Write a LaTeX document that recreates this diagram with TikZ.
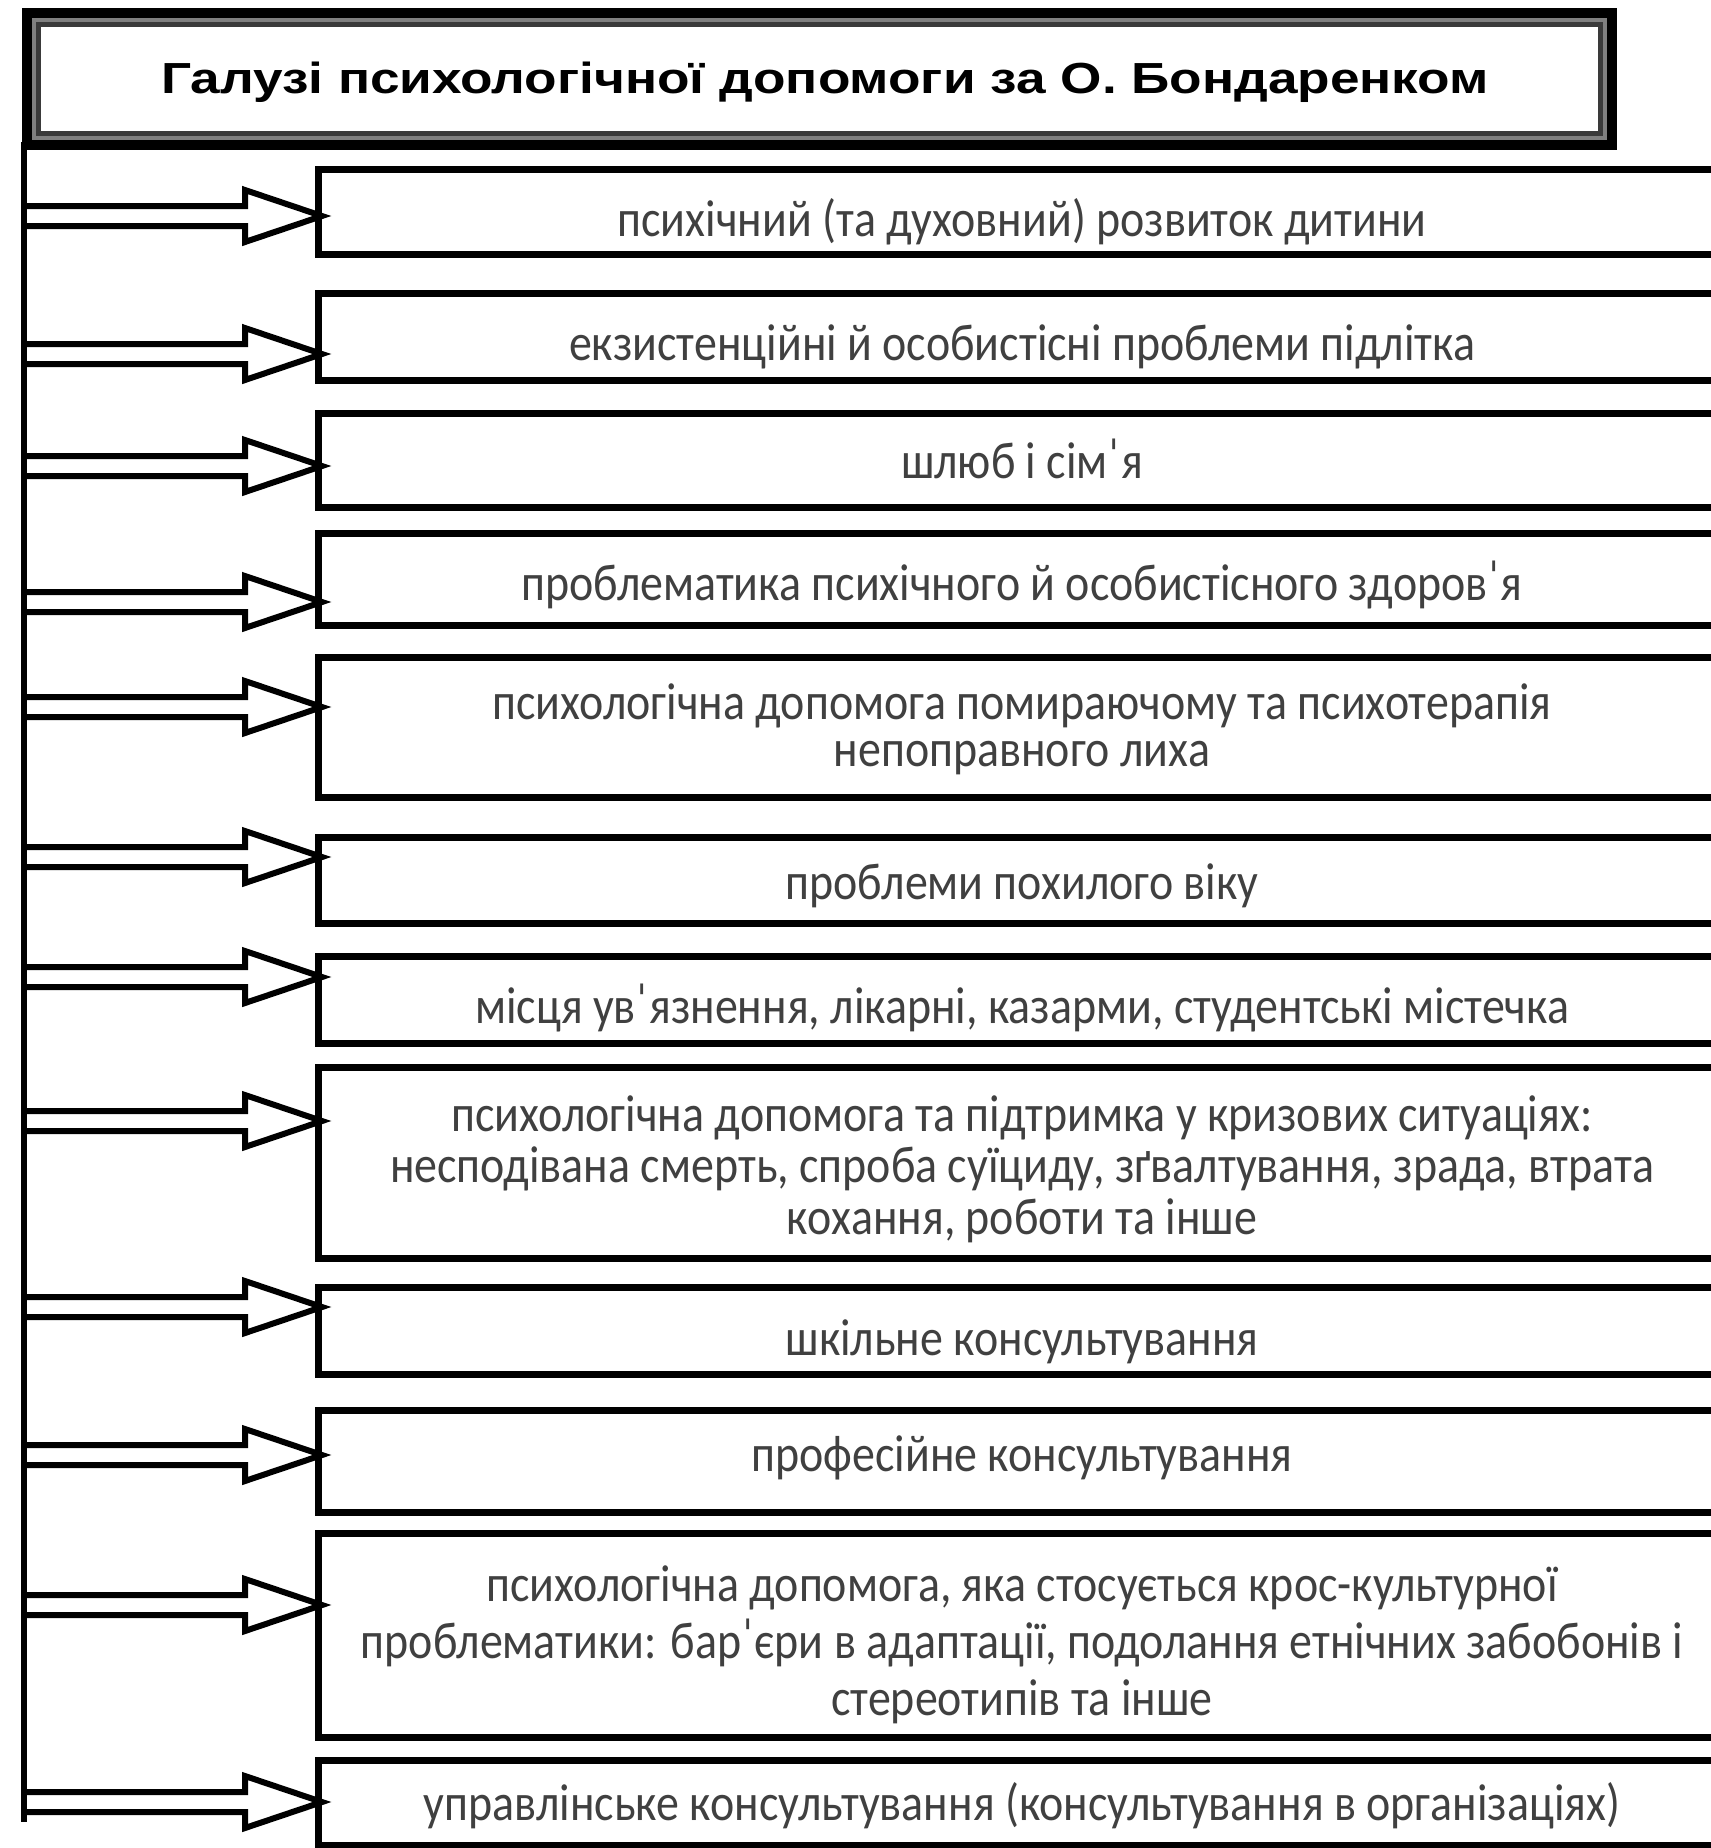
\documentclass[tikz,border=0pt]{standalone}
\usepackage{fontspec}
\setmainfont{Carlito}
\newfontfamily\titlefont{Liberation Sans}
\usetikzlibrary{calc}
\definecolor{txtgray}{HTML}{404040}
\definecolor{framegray}{HTML}{808080}
\definecolor{innerline}{HTML}{3A3A3A}
\newcommand\sy[1]{\scalebox{1.148}[1.30]{#1}}
\newcommand\tightlines{\lineskiplimit=-1000pt\relax\lineskip=0pt\relax}
\newcommand\lblfont[1]{\fontsize{40}{#1}\selectfont\tightlines}
\begin{document}
\begin{tikzpicture}[x=1pt,y=-1pt,
  boxnode/.style={draw=black, line width=7pt, fill=white, rectangle, inner sep=0pt, outer sep=0pt, minimum width=1410pt},
  lbl/.style={text=txtgray, font={\lblfont{47}}, align=center, inner sep=0pt, anchor=base},
  hollow/.style={draw=black, line width=6pt, fill=white, line join=miter},
  trunkline/.style={line width=6pt, draw=black},
  titlebox/.style={draw=black, line width=10pt, fill=framegray, minimum width=1585pt, minimum height=132pt, inner sep=0pt, outer sep=0pt},
  titletxt/.style={font={\titlefont\bfseries\fontsize{43.5}{50}\selectfont}, text height=31pt, text depth=0pt, inner sep=0pt}
]
\useasboundingbox (0,0) rectangle (1711,1848);
\clip (0,0) rectangle (1711,1848);

% boxes and arrows
\foreach \i/\cy/\h/\ay in {1/211.5/85/216, 2/336.5/87/354, 3/460/94/466, 4/579/92/602, 5/727/140/707, 6/880/86/857, 7/999.5/87/977, 8/1162.5/191/1121, 9/1330.5/87/1307, 10/1461/102/1455, 11/1635/204/1605, 12/1802.5/85/1802}{
  \node[boxnode, minimum height=\h pt] (b\i) at (1023,\cy) {};
  \coordinate (s\i) at (24,\ay);
  \path (b\i.west |- s\i) ++(4,0) coordinate (p\i);
  \draw[hollow] ($(s\i)+(0,-10)$) -- ($(p\i)+(-77,-10)$) -- ($(p\i)+(-77,-26)$) -- (p\i) -- ($(p\i)+(-77,26)$) -- ($(p\i)+(-77,10)$) -- ($(s\i)+(0,10)$);
}

% trunk
\coordinate (trtop) at (24,142);
\coordinate (trbot) at (24,1822);
\draw[trunkline] (trtop) -- (trbot);

% title
\node[titlebox] (title) at (819.5,79) {};
\draw[line width=5pt, draw=innerline, fill=white] ([shift={(11.5,11.5)}]title.north west) rectangle ([shift={(-11.5,-11.5)}]title.south east);
\node[titletxt] (titletext) at (825,77.5) {\scalebox{1.2225}[1]{Галузі психологічної допомоги за О. Бондаренком}};

% labels (anchor base = baseline of the last line)
\node[lbl] (l1) at (1022,236) {\sy{психічний (та духовний) розвиток дитини}};
\node[lbl] (l2) at (1022,360) {\sy{екзистенційні й особистісні проблеми підлітка}};
\node[lbl] (l3) at (1022,478) {\sy{шлюб і сімˈя}};
\node[lbl] (l4) at (1022,600.5) {\sy{проблематика психічного й особистісного здоровˈя}};
\node[lbl] (l5) at (1022,766) {\sy{психологічна допомога помираючому та психотерапія}\\\sy{непоправного лиха}};
\node[lbl] (l6) at (1022,899) {\sy{проблеми похилого віку}};
\node[lbl] (l7) at (1022,1023) {\sy{місця увˈязнення, лікарні, казарми, студентські містечка}};
\node[lbl, font={\lblfont{51.5}}] (l8) at (1022,1234) {\sy{психологічна допомога та підтримка у кризових ситуаціях:}\\\sy{несподівана смерть, спроба суїциду, зґвалтування, зрада, втрата}\\\sy{кохання, роботи та інше}};
\node[lbl] (l9) at (1022,1355) {\sy{шкільне консультування}};
\node[lbl] (l10) at (1022,1471) {\sy{професійне консультування}};
\node[lbl, font={\lblfont{57}}] (l11) at (1022,1715) {\sy{психологічна допомога, яка стосується крос-культурної}\\\sy{проблематики: барˈєри в адаптації, подолання етнічних забобонів і}\\\sy{стереотипів та інше}};
\node[lbl] (l12) at (1022,1820) {\sy{управлінське консультування (консультування в організаціях)}};
\end{tikzpicture}
\end{document}
